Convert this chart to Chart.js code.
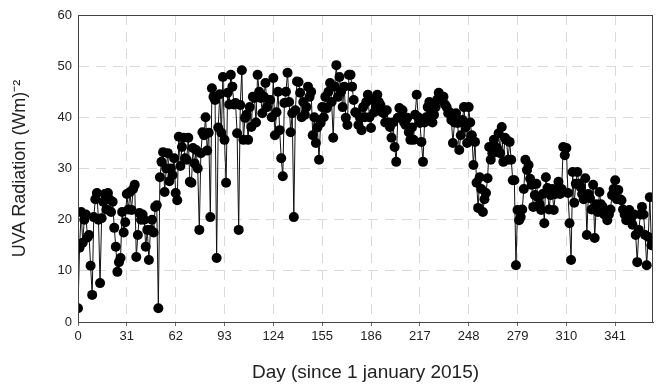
<!DOCTYPE html>
<html lang="en">
<head>
<meta charset="UTF-8" />
<title>UVA radiation 2015</title>
<script src="https://cdn.jsdelivr.net/npm/chart.js"></script>
<style>
  html, body { margin: 0; padding: 0; background: #fff; }
  #wrap { position: relative; width: 658px; height: 385px; }
</style>
</head>
<body>
<div id="wrap"><canvas id="uvaChart"></canvas></div>
<script>
  // tick positions on the day axis
  const dayTicks = [0, 31, 62, 93, 124, 155, 186, 217, 248, 279, 310, 341];
  const yTicks = [0, 10, 20, 30, 40, 50, 60];

  // daily UVA radiation, day 0 .. 364
  const uva = [
    2.7, 14.5, 21.5, 15.5, 20, 21, 16.5, 17, 11, 5.3,
    20.5, 24, 25.2, 20, 7.6, 20.3, 23.5, 25, 22, 25.2,
    24, 21.5, 23.5, 18.4, 14.7, 9.8, 11.7, 12.5, 21.5, 17.5,
    19.5, 25, 22, 25.4, 21.9, 26, 26.8, 12.7, 17, 21.3,
    20, 21, 20, 14.7, 18, 12.1, 18, 20, 17.5, 22.5,
    22.8, 2.7, 28.3, 31.3, 33.2, 25.4, 30, 33, 27.5, 30,
    28.7, 32, 25.2, 23.8, 36.2, 30.5, 34.2, 36, 32, 31.7,
    36, 27.4, 27.2, 34, 31, 33.6, 30, 18, 33, 37.1,
    36.5, 40, 33.5, 37, 20.5, 45.7, 44, 43.4, 12.5, 38,
    44.5, 37, 47.9, 35.6, 27.2, 44.8, 42.5, 48.3, 46, 42.5,
    42.8, 36.9, 18, 42.4, 49.2, 35.6, 39.9, 40.5, 35.6, 42,
    38.1, 44, 43.8, 39, 48.3, 45, 43.8, 40.8, 44, 46.7,
    42, 43.4, 43.4, 40, 47.7, 36.5, 41, 45, 37.5, 32,
    28.5, 42.8, 45, 48.7, 43, 37.1, 40.8, 20.5, 41.4, 47,
    46.9, 44.8, 40, 43, 40.5, 42, 46, 44, 45, 36.5,
    40, 35, 38, 31.7, 38.9, 42, 40, 44, 41.8, 45,
    46.7, 43, 36, 46, 50.2, 44, 47.9, 45, 42, 46,
    39.9, 38.5, 48.3, 48.3, 46, 43.4, 41, 40.8, 38.5, 39.9,
    37.5, 42, 40, 43, 44.4, 40, 37.9, 43.4, 41, 42,
    44.4, 43, 42.4, 41, 40.8, 39, 41.4, 39, 38.1, 36,
    39, 34.2, 31.3, 39.9, 41.8, 40, 41.4, 39, 38.5, 39.9,
    37.1, 35.6, 38, 35.6, 40.5, 44.4, 40, 38.9, 35.2, 31.3,
    39, 40, 42, 43, 41, 39, 40.5, 42, 43.5, 44.8,
    44, 43.4, 44, 42.5, 42, 40.8, 41, 39.5, 35, 39,
    40.8, 38.9, 33.6, 36.5, 39.5, 42, 38, 35, 42, 39,
    36.5, 30.7, 35.2, 27.2, 22.3, 28.3, 26, 21.5, 24, 25.2,
    28.1, 34.2, 31.7, 33, 35.6, 33.2, 34, 36.9, 33, 38.1,
    31.3, 36, 35.6, 31.7, 35.2, 31.7, 27.7, 27.7, 11.1, 21.9,
    19.9, 20.5, 22, 26, 31.7, 29.7, 30.7, 28, 26.8, 22.5,
    24.8, 27, 24.4, 23, 21.9, 25, 19.3, 28.3, 26.2, 22,
    24.8, 26, 21.9, 25, 26, 27.4, 25, 26, 34.2, 32.6,
    34, 25.2, 19.3, 12.1, 29.3, 23.3, 27, 29.3, 27, 26.4,
    25, 24, 28.1, 17, 25, 24.2, 22, 26.8, 16.4, 23,
    21.5, 25.4, 23, 22.5, 21, 20.9, 19.9, 21, 22, 24.8,
    26, 27.7, 24, 25.8, 24, 23.8, 22, 21, 19.9, 20.5,
    21.9, 20, 19, 21, 17, 11.7, 18, 21, 22.5, 21,
    17, 11.1, 16.6, 24.4, 15
  ];

  const frameBox = {
    id: 'frameBox',
    afterDraw(chart) {
      const { ctx, chartArea: a } = chart;
      ctx.save();
      ctx.strokeStyle = '#444';
      ctx.lineWidth = 1;
      ctx.strokeRect(a.left + 0.5, a.top + 0.5, a.right - a.left - 1, a.bottom - a.top);
      ctx.restore();
    }
  };

  const fontFamily = '"Liberation Sans", Arial, sans-serif';
  const tickFont = { family: fontFamily, size: 13 };

  new Chart(document.getElementById('uvaChart'), {
    type: 'line',
    data: {
      datasets: [{
        data: uva.map((v, i) => ({ x: i, y: v })),
        borderColor: '#111',
        borderWidth: 1,
        pointRadius: 5,
        pointBackgroundColor: '#000',
        pointBorderColor: '#000',
        pointBorderWidth: 0,
        tension: 0
      }]
    },
    options: {
      responsive: true,
      maintainAspectRatio: false,
      animation: false,
      events: [],
      layout: { padding: { top: 15, right: 1, left: 0, bottom: 0 } },
      plugins: { legend: { display: false }, tooltip: { enabled: false } },
      scales: {
        x: {
          type: 'linear',
          min: 0,
          max: 365,
          afterBuildTicks: s => { s.ticks = dayTicks.map(v => ({ value: v })); },
          afterFit: s => { s.height = 63; },
          ticks: { color: '#222', font: tickFont, padding: 3, maxRotation: 0, autoSkip: false,
                   callback: v => String(v) },
          grid: { color: '#d9d9d9', tickColor: '#666', tickLength: 4 },
          border: { display: true, color: '#444', width: 1, dash: [10, 7] },
          title: {
            display: true,
            text: 'Day (since 1 january 2015)',
            color: '#222',
            font: { family: fontFamily, size: 19 },
            padding: { top: 0, bottom: 1 }
          }
        },
        y: {
          min: 0,
          max: 60,
          afterBuildTicks: s => { s.ticks = yTicks.map(v => ({ value: v })); },
          afterFit: s => { s.width = 78; },
          ticks: { color: '#222', font: tickFont, padding: 6 },
          grid: { color: '#d9d9d9', drawTicks: false },
          border: { display: true, color: '#444', width: 1, dash: [10, 7] },
          title: {
            display: true,
            text: 'UVA Radiation (Wm)⁻²',
            color: '#222',
            font: { family: fontFamily, size: 18 },
            padding: { top: 9, bottom: 0 }
          }
        }
      }
    },
    plugins: [frameBox]
  });
</script>
</body>
</html>
